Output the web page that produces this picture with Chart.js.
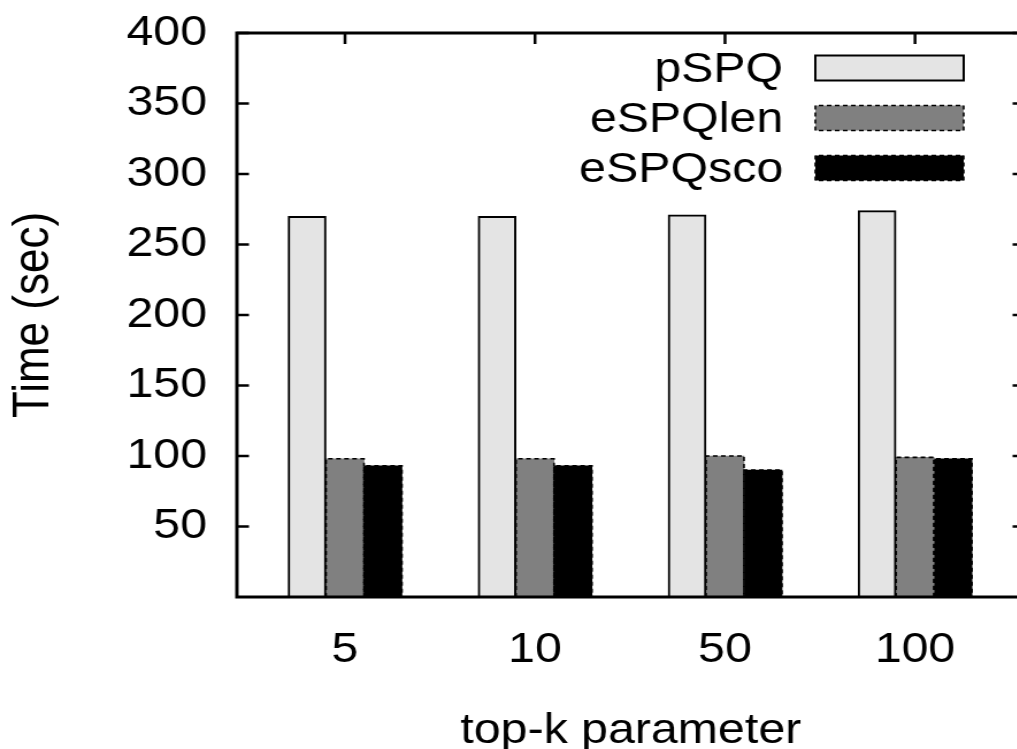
<!DOCTYPE html>
<html>
<head>
<meta charset="utf-8">
<title>top-k parameter</title>
<script src="https://cdn.jsdelivr.net/npm/chart.js@4.4.1/dist/chart.umd.min.js"></script>
<style>
  html, body { margin: 0; padding: 0; background: #fff; overflow: hidden; }
  /* растягиваем по горизонтали, как в исходном eps */
  #timeChart { display: block; transform: scaleX(1.15); transform-origin: 0 0; }
</style>
</head>
<body>
<canvas id="timeChart" width="896" height="749"></canvas>
<script>
// Значения параметра top-k
const categories = ['5', '10', '50', '100'];
// Время работы алгоритмов (сек)
const pSPQ = [270, 270, 271, 274];
const eSPQlen = [98, 98, 100, 99];
const eSPQsco = [93, 93, 90, 98];
// Деления оси Y
const yTicks = [50, 100, 150, 200, 250, 300, 350, 400];

const FONT = "'Liberation Sans', Arial, Helvetica, sans-serif";

function toPoints(values) {
    return values.map((v, i) => ({ x: i, y: v }));
}

// Пунктирная рамка (без нижней стороны для столбцов)
function dashedRect(ctx, left, top, right, bottom, closed) {
    ctx.beginPath();
    ctx.moveTo(left, bottom);
    ctx.lineTo(left, top);
    ctx.lineTo(right, top);
    ctx.lineTo(right, bottom);
    if (closed) ctx.closePath();
    ctx.stroke();
}

// Рамка, засечки внутрь, пунктир и легенда в стиле gnuplot
const gnuplotFrame = {
    id: 'gnuplotFrame',
    afterDatasetsDraw(chart) {
        const { ctx, chartArea: a, scales } = chart;
        ctx.save();

        // пунктирные контуры eSPQlen и eSPQsco
        ctx.strokeStyle = '#000';
        ctx.lineWidth = 1.6;
        ctx.setLineDash([4, 3]);
        [1, 2].forEach(di => {
            chart.getDatasetMeta(di).data.forEach(bar => {
                const p = bar.getProps(['x', 'y', 'base', 'width'], true);
                dashedRect(ctx, p.x - p.width / 2, p.y, p.x + p.width / 2, p.base, false);
            });
        });
        ctx.setLineDash([]);

        // рамка графика
        ctx.lineWidth = 3;
        ctx.strokeRect(a.left, a.top, a.right - a.left, a.bottom - a.top);

        // засечки
        ctx.lineWidth = 2.5;
        ctx.beginPath();
        scales.y.ticks.forEach(t => {
            const py = scales.y.getPixelForValue(t.value);
            ctx.moveTo(a.left, py);
            ctx.lineTo(a.left + 10.5, py);
            ctx.moveTo(a.right, py);
            ctx.lineTo(a.right - 10.5, py);
        });
        scales.x.ticks.forEach(t => {
            const px = scales.x.getPixelForValue(t.value);
            ctx.moveTo(px, a.top);
            ctx.lineTo(px, a.top + 11);
        });
        ctx.stroke();

        // легенда: подпись слева, образец справа
        ctx.font = '42px ' + FONT;
        ctx.textAlign = 'right';
        ctx.textBaseline = 'middle';
        chart.data.datasets.forEach((ds, i) => {
            const cy = 68 + i * 50;
            const top = cy - 12.5, bottom = cy + 12.5;
            const left = 709, right = 838;
            ctx.fillStyle = '#000';
            ctx.fillText(ds.label, 681, cy + 2);
            ctx.fillStyle = ds.backgroundColor;
            ctx.fillRect(left, top, right - left, bottom - top);
            ctx.strokeStyle = '#000';
            if (i === 0) {
                ctx.lineWidth = 2;
                ctx.setLineDash([]);
            } else {
                ctx.lineWidth = 1.6;
                ctx.setLineDash([4, 3]);
            }
            dashedRect(ctx, left, top, right, bottom, true);
        });

        ctx.restore();
    }
};

window.onload = function() {
    const ctx = document.getElementById('timeChart').getContext('2d');
    const timeChart = new Chart(ctx, {
        type: 'bar',
        data: {
            datasets: [{
                label: 'pSPQ',
                data: toPoints(pSPQ),
                backgroundColor: '#e4e4e4',
                borderColor: '#000',
                borderWidth: 2
            }, {
                label: 'eSPQlen',
                data: toPoints(eSPQlen),
                backgroundColor: '#808080',
                borderWidth: 0
            }, {
                label: 'eSPQsco',
                data: toPoints(eSPQsco),
                backgroundColor: '#000000',
                borderWidth: 0
            }]
        },
        options: {
            responsive: false,
            animation: false,
            devicePixelRatio: 1,
            barThickness: 33,
            layout: { padding: { left: 0, top: 33, right: 5, bottom: 0 } },
            plugins: {
                legend: { display: false },
                tooltip: { enabled: false }
            },
            scales: {
                x: {
                    type: 'linear',
                    offset: false,
                    min: -0.569,
                    max: 3.577,
                    // засечки рисует плагин, tickLength задаёт отступ подписей
                    grid: { display: false, drawTicks: true, tickLength: 28 },
                    border: { display: false },
                    afterBuildTicks: scale => {
                        scale.ticks = categories.map((c, i) => ({ value: i }));
                    },
                    afterFit: scale => { scale.height = 152; },
                    ticks: {
                        autoSkip: false,
                        maxRotation: 0,
                        padding: 0,
                        color: '#000',
                        font: { family: FONT, size: 42 },
                        callback: v => categories[v]
                    },
                    title: {
                        display: true,
                        text: 'top-k parameter',
                        color: '#000',
                        font: { family: FONT, size: 42, lineHeight: 1 },
                        padding: { top: 0, bottom: -3 }
                    }
                },
                y: {
                    min: 0,
                    max: 400,
                    grid: { display: false, drawTicks: true, tickLength: 26 },
                    border: { display: false },
                    afterBuildTicks: scale => {
                        scale.ticks = yTicks.map(v => ({ value: v }));
                    },
                    afterFit: scale => { scale.width = 206; },
                    ticks: {
                        padding: 0,
                        color: '#000',
                        font: { family: FONT, size: 42 }
                    },
                    title: {
                        display: true,
                        text: 'Time (sec)',
                        color: '#000',
                        font: { family: FONT, size: 44, lineHeight: 1 },
                        padding: { top: 8, bottom: 0 }
                    }
                }
            }
        },
        plugins: [gnuplotFrame]
    });
};
</script>
</body>
</html>
